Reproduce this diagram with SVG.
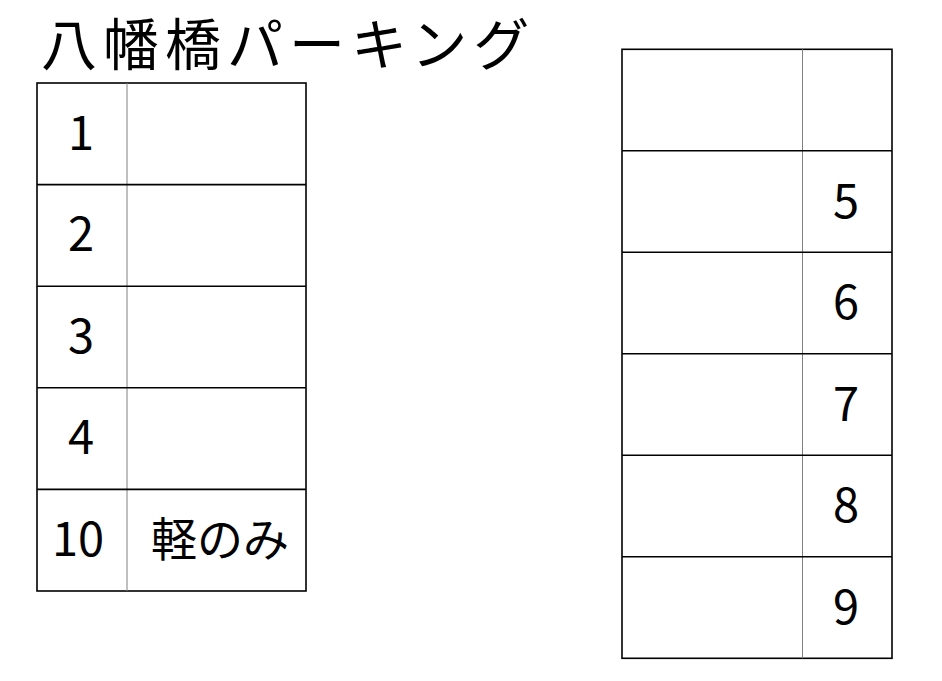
<svg xmlns="http://www.w3.org/2000/svg" width="942" height="681" viewBox="0 0 942 681">
<style>
.t{font-family:"Noto Sans CJK JP","Liberation Sans",sans-serif;fill:#000}
.n{font-size:47px;text-anchor:middle}
.o{fill:none;stroke:#000;stroke-width:1.6}
.g{stroke:#808080;stroke-width:1}
.h{stroke:#000;stroke-width:1.6}
</style>
<rect width="942" height="681" fill="#fff"/>
<g id="title"><text class="t" x="41" y="65" font-size="56" letter-spacing="6">八幡橋パーキング</text></g>
<g id="left-table">
<rect class="o" x="37" y="83" width="269" height="508"/>
<line class="g" x1="127" y1="83" x2="127" y2="591"/>
<line class="h" x1="37" y1="184.6" x2="306" y2="184.6"/>
<line class="h" x1="37" y1="286.2" x2="306" y2="286.2"/>
<line class="h" x1="37" y1="387.8" x2="306" y2="387.8"/>
<line class="h" x1="37" y1="489.4" x2="306" y2="489.4"/>
</g>
<g id="slot-1"><text class="t n" x="81" y="150">1</text></g>
<g id="slot-2"><text class="t n" x="81" y="251">2</text></g>
<g id="slot-3"><text class="t n" x="81" y="353">3</text></g>
<g id="slot-4"><text class="t n" x="81" y="454">4</text></g>
<g id="slot-10"><text class="t n" x="78" y="556">10</text><text class="t" x="220" y="556" font-size="46" text-anchor="middle">軽のみ</text></g>
<g id="right-table">
<rect class="o" x="622" y="49.3" width="270" height="609"/>
<line class="g" x1="802.5" y1="49.3" x2="802.5" y2="658.3"/>
<line class="h" x1="622" y1="150.8" x2="892" y2="150.8"/>
<line class="h" x1="622" y1="252.3" x2="892" y2="252.3"/>
<line class="h" x1="622" y1="353.8" x2="892" y2="353.8"/>
<line class="h" x1="622" y1="455.3" x2="892" y2="455.3"/>
<line class="h" x1="622" y1="556.8" x2="892" y2="556.8"/>
</g>
<g id="slot-5"><text class="t n" x="846" y="218">5</text></g>
<g id="slot-6"><text class="t n" x="846" y="319">6</text></g>
<g id="slot-7"><text class="t n" x="846" y="421">7</text></g>
<g id="slot-8"><text class="t n" x="846" y="522">8</text></g>
<g id="slot-9"><text class="t n" x="846" y="624">9</text></g>
</svg>
